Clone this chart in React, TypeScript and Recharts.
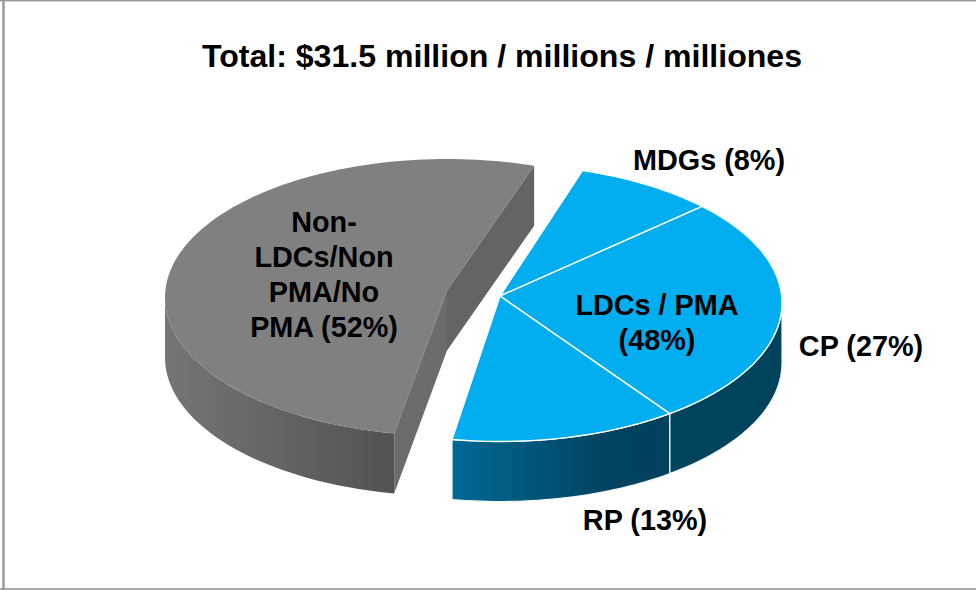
import React from "react";
import { PieChart, Pie, Cell } from "recharts";

const titleText = "Total: $31.5 million / millions / milliones";
const targetNames = ["MDGs", "CP", "RP"];
const targetValues = [8, 27, 13];
const otherNames = ["Non-LDCs/Non PMA/No PMA"];
const otherValues = [52];
const labelNames = ["MDGs", "CP", "RP", "LDCs / PMA", "Non-LDCs"];
const labelValues = [8, 27, 13, 48, 52];
const labelLines = [["MDGs (8%)"], ["CP (27%)"], ["RP (13%)"], ["LDCs / PMA", "(48%)"], ["Non-", "LDCs/Non", "PMA/No", "PMA (52%)"]];

const targetData = targetNames.map((name, i) => ({ name, value: targetValues[i] }));
const otherData = otherNames.map((name, i) => ({ name, value: otherValues[i] }));
const labelData = labelNames.map((name, i) => ({ name, value: labelValues[i] }));

const W = 976;
const H = 590;
const RX = 282;
const RY = 138.5;
const DEPTH = 60;
const APEX_LIFT = 7;
const FONT = "'Liberation Sans', Arial, sans-serif";
const LABEL_ANCHORS = [
  [709, 170],
  [861, 356],
  [645, 530],
  [657, 315],
  [324, 232],
];
const LINE_HEIGHT = 35;
const rad = (d: number) => (d * Math.PI) / 180;

const rim = (cx: number, cy: number, a: number) => [cx + RX * Math.cos(rad(a)), cy - RY * Math.sin(rad(a))];

function arcPoints(cx: number, cy: number, from: number, to: number, dy = 0) {
  const n = Math.max(2, Math.ceil(Math.abs(from - to) / 1.5));
  const pts: string[] = [];
  for (let i = 0; i <= n; i++) {
    const [x, y] = rim(cx, cy, from + ((to - from) * i) / n);
    pts.push(`${x.toFixed(2)} ${(y + dy).toFixed(2)}`);
  }
  return pts;
}

function TopFace(props: any) {
  const { cx, cy, startAngle, endAngle, fill, stroke, strokeWidth } = props;
  const d = `M${cx} ${cy - APEX_LIFT}L${arcPoints(cx, cy, startAngle, endAngle).join("L")}Z`;
  return <path d={d} fill={fill} stroke={stroke} strokeWidth={strokeWidth} strokeLinejoin="round" />;
}

function Walls(props: any) {
  const { cx, cy, startAngle, endAngle, fill, stroke, strokeWidth, payload } = props;
  const s = startAngle;
  const e = endAngle;
  const parts: React.ReactNode[] = [];
  const radial = (a: number, key: string, color: string) => {
    const [x, y] = rim(cx, cy, a);
    const ay = cy - APEX_LIFT;
    parts.push(
      <path key={key} d={`M${cx} ${ay}L${x} ${y}L${x} ${y + DEPTH}L${cx} ${ay + DEPTH}Z`} fill={color} />
    );
  };
  if (payload?.name === otherNames[0] || props.name === otherNames[0]) {
    radial(e, "end", "#646464");
    radial(s, "start", "#6c6c6c");
  }
  // The outer rim only shows on the near half of the ellipse.
  let from = s;
  let to = e;
  if (from > 0) from = 0;
  if (to < -180) to = -180;
  if (from > to) {
    const top = arcPoints(cx, cy, from, to);
    const bottom = arcPoints(cx, cy, to, from, DEPTH);
    parts.push(<path key="rim" d={`M${top.join("L")}L${bottom.join("L")}Z`} fill={fill} stroke={stroke} strokeWidth={strokeWidth} />);
  }
  return <g>{parts}</g>;
}

function SliceLabel(props: any) {
  const i: number = props.index;
  const [x, y] = LABEL_ANCHORS[i];
  return (
    <g>
      {labelLines[i].map((t, k) => (
        <text key={k} x={x} y={y + k * LINE_HEIGHT} textAnchor="middle" fontFamily={FONT} fontWeight={700} fontSize={28.8} fill="#000">
          {t}
        </text>
      ))}
    </g>
  );
}

const NoSector = () => null;

export default function App() {
  const tPos = { cx: 500, cy: 303 };
  const oPos = { cx: 447, cy: 297.5 };
  const tStart = 73;
  const tEnd = tStart - 172.8;
  const oStart = -100.8;
  const oEnd = oStart - 187.2;
  return (
    <div style={{ position: "absolute", left: 0, top: 0, width: W, height: H, background: "#fff" }}>
      <PieChart width={W} height={H} margin={{ top: 0, right: 0, bottom: 0, left: 0 }}>
        <defs>
          <linearGradient id="greyWall" gradientUnits="userSpaceOnUse" x1="165" y1="0" x2="395" y2="0">
            <stop offset="0" stopColor="#757575" />
            <stop offset="1" stopColor="#525252" />
          </linearGradient>
          <linearGradient id="rpWall" gradientUnits="userSpaceOnUse" x1="449" y1="0" x2="677" y2="0">
            <stop offset="0" stopColor="#006a96" />
            <stop offset="0.7" stopColor="#00435f" />
            <stop offset="1" stopColor="#00425c" />
          </linearGradient>
        </defs>
        <line x1={3.5} y1={0} x2={3.5} y2={H} stroke="#9a9a9a" strokeWidth={2.5} />
        <line x1={0} y1={0.7} x2={W} y2={0.7} stroke="#9a9a9a" strokeWidth={1.6} />
        <line x1={0} y1={589} x2={W} y2={589} stroke="#8f8f8f" strokeWidth={1.6} />
        <text x={502} y={67} textAnchor="middle" fontFamily={FONT} fontWeight={700} fontSize={32.1} fill="#000">
          {titleText}
        </text>

        <Pie data={otherData} dataKey="value" nameKey="name" cx={oPos.cx} cy={oPos.cy} outerRadius={RX} startAngle={oStart} endAngle={oEnd} shape={Walls} stroke="none" isAnimationActive={false} legendType="none">
          <Cell fill="url(#greyWall)" />
        </Pie>
        <Pie data={otherData} dataKey="value" nameKey="name" cx={oPos.cx} cy={oPos.cy} outerRadius={RX} startAngle={oStart} endAngle={oEnd} shape={TopFace} stroke="none" isAnimationActive={false} legendType="none">
          <Cell fill="#808080" />
        </Pie>

        <Pie data={targetData} dataKey="value" nameKey="name" cx={tPos.cx} cy={tPos.cy} outerRadius={RX} startAngle={tStart} endAngle={tEnd} shape={Walls} stroke="#f2f6f8" strokeWidth={1.2} isAnimationActive={false} legendType="none">
          <Cell fill="#00aeef" />
          <Cell fill="#00435c" />
          <Cell fill="url(#rpWall)" />
        </Pie>
        <Pie data={targetData} dataKey="value" nameKey="name" cx={tPos.cx} cy={tPos.cy} outerRadius={RX} startAngle={tStart} endAngle={tEnd} shape={TopFace} stroke="#ffffff" strokeWidth={1.4} isAnimationActive={false} legendType="none">
          <Cell fill="#00aeef" />
          <Cell fill="#00aeef" />
          <Cell fill="#00aeef" />
        </Pie>

        <Pie data={labelData} dataKey="value" nameKey="name" cx={tPos.cx} cy={tPos.cy} outerRadius={RX} shape={NoSector} fill="none" stroke="none" label={SliceLabel} labelLine={false} isAnimationActive={false} legendType="none" />
      </PieChart>
    </div>
  );
}
